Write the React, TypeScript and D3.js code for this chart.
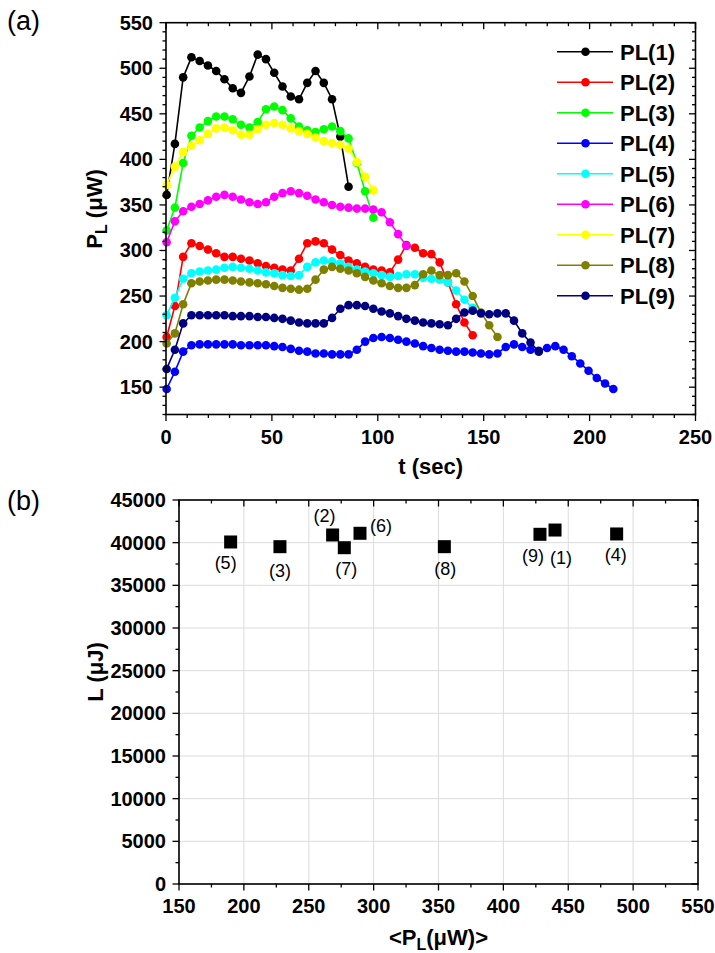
import React from "react";
import * as d3 from "d3";

// ---- Data ----
const T = [0.3, 4.2, 8.1, 12.0, 15.9, 19.8, 23.7, 27.6, 31.5, 35.4, 39.4, 43.3, 47.2, 51.1, 55.0, 58.9, 62.8, 66.7, 70.6, 74.5, 78.4, 82.3, 86.2, 90.1, 94.0, 97.9, 101.8, 105.7, 109.6, 113.5, 117.5, 121.4, 125.3, 129.2, 133.1, 137.0, 140.9, 144.8, 148.7, 152.6, 156.5, 160.4, 164.3, 168.2, 172.1, 176.0, 179.9, 183.8, 187.7, 191.6, 195.6, 199.5, 203.4, 207.3, 211.2];

const PL1 = [361, 417, 490, 512, 508, 503, 497, 488, 478, 473, 491, 515, 510, 495, 480, 469, 466, 484, 497, 484, 466, 425, 370];
const PL2 = [205, 239, 293, 308, 305, 301, 297, 293, 293, 291, 289, 286, 283, 281, 279, 278, 291, 308, 310, 308, 301, 295, 289, 286, 282, 279, 278, 276, 290, 306, 303, 297, 296, 287, 265, 241, 221, 207];
const PL3 = [322, 347, 396, 426, 435, 442, 447, 447, 444, 438, 435, 441, 455, 458, 454, 445, 436, 432, 430, 433, 436, 431, 423, 396, 365, 336];
const PL4 = [148, 167, 189, 196, 197, 197, 197, 197, 197, 196, 196, 196, 196, 195, 194, 192, 190, 189, 187, 187, 186, 186, 186, 191, 200, 204, 205, 204, 202, 200, 198, 195, 193, 191, 190, 189, 189, 188, 187, 186, 187, 194, 197, 194, 191, 190, 193, 195, 191, 184, 176, 168, 160, 154, 148];
const PL5 = [229, 248, 269, 275, 277, 278, 279, 281, 282, 281, 280, 278, 276, 275, 273, 272, 273, 282, 287, 289, 288, 286, 282, 279, 277, 275, 273, 271, 272, 274, 274, 270, 269, 268, 265, 256, 246, 237];
const PL6 = [309, 332, 343, 348, 351, 355, 359, 361, 359, 356, 353, 351, 353, 359, 363, 365, 363, 360, 356, 353, 350, 348, 347, 346, 346, 345, 342, 331, 318, 305];
const PL7 = [372, 392, 408, 415, 421, 428, 434, 435, 432, 427, 427, 433, 438, 440, 438, 434, 431, 428, 424, 420, 418, 416, 412, 397, 381, 366];
const PL8 = [198, 209, 241, 264, 266, 267, 268, 268, 267, 266, 265, 264, 263, 261, 259, 258, 257, 258, 268, 279, 282, 280, 278, 275, 271, 267, 264, 261, 259, 259, 262, 274, 278, 273, 273, 275, 266, 250, 232, 218, 205];
const PL9 = [170, 191, 220, 229, 229, 229, 229, 229, 228, 228, 228, 227, 227, 226, 225, 223, 221, 220, 220, 220, 226, 236, 240, 240, 239, 236, 233, 231, 228, 225, 223, 221, 220, 219, 218, 225, 232, 234, 231, 230, 231, 231, 223, 209, 199, 189];

const SERIES_NAMES = ["PL(1)", "PL(2)", "PL(3)", "PL(4)", "PL(5)", "PL(6)", "PL(7)", "PL(8)", "PL(9)"];
const SERIES_VALUES = [PL1, PL2, PL3, PL4, PL5, PL6, PL7, PL8, PL9];
const SERIES_COLORS = ["#000000", "#ff0000", "#00ff00", "#0000ff", "#00ffff", "#ff00ff", "#ffff00", "#808000", "#000080"];

const TOP_Y_TICKS = [150, 200, 250, 300, 350, 400, 450, 500, 550];
const TOP_X_TICKS = [0, 50, 100, 150, 200, 250];

const B_LABELS = ["(1)", "(2)", "(3)", "(4)", "(5)", "(6)", "(7)", "(8)", "(9)"];
const B_P = [439.8, 268.4, 227.8, 487.3, 189.8, 289.5, 277.4, 354.5, 428.2];
const B_L = [41480, 40900, 39530, 41020, 40080, 41100, 39410, 39530, 40980];
const B_X_TICKS = [150, 200, 250, 300, 350, 400, 450, 500, 550];
const B_Y_TICKS = [0, 5000, 10000, 15000, 20000, 25000, 30000, 35000, 40000, 45000];

// label offsets (layout only)
const B_LABEL_DX = [6, -8, 0, -1, -5, 21, 2, 1, -7];
const B_LABEL_DY = [28, -19, 24, 21, 21, -7, 21, 22, 22];

const FONT = "'Liberation Sans', Arial, Helvetica, sans-serif";

export default function App() {
  // ---- top chart ----
  const tL = 166, tR = 695.5, tT = 22.7, tB = 414.5;
  const x1 = d3.scaleLinear().domain([0, 250]).range([tL, tR]);
  const y1 = d3.scaleLinear().domain([120, 550]).range([tB, tT]);
  const xMinor1 = d3.range(0, 251, 10);
  const yMinor1 = d3.range(120, 551, 10);

  // ---- bottom chart ----
  const bL = 179, bR = 698, bT = 500, bB = 884;
  const x2 = d3.scaleLinear().domain([150, 550]).range([bL, bR]);
  const y2 = d3.scaleLinear().domain([0, 45000]).range([bB, bT]);
  const xMinor2 = d3.range(150, 551, 25);
  const yMinor2 = d3.range(0, 45001, 2500);

  const line = d3
    .line<number>()
    .x((_, i) => x1(T[i]))
    .y((v) => y1(v));

  const MAJ = 6.5;
  const MIN = 3.5;
  const axisStroke = 1.6;

  return (
    <svg
      width={715}
      height={953}
      style={{ position: "absolute", left: 0, top: 0, background: "#fff" }}
      fontFamily={FONT}
    >
      <rect x={0} y={0} width={715} height={953} fill="#fff" />
      {/* ============ TOP CHART ============ */}
      <text x={7} y={30} fontSize={27}>(a)</text>

      {/* series */}
      {SERIES_VALUES.map((vals, s) => (
        <g key={"s" + s}>
          <path d={line(vals) || ""} fill="none" stroke={SERIES_COLORS[s]} strokeWidth={1.6} />
          {vals.map((v, i) => (
            <circle key={i} cx={x1(T[i])} cy={y1(v)} r={4.3} fill={SERIES_COLORS[s]} />
          ))}
        </g>
      ))}

      {/* frame */}
      <rect x={tL} y={tT} width={tR - tL} height={tB - tT} fill="none" stroke="#000" strokeWidth={axisStroke} />

      {/* x ticks: bottom outward, top inward */}
      {xMinor1.map((v) => {
        const major = v % 50 === 0;
        const len = major ? MAJ : MIN;
        return (
          <g key={"xt" + v}>
            <line x1={x1(v)} x2={x1(v)} y1={tB} y2={tB + len} stroke="#000" strokeWidth={1.3} />
            <line x1={x1(v)} x2={x1(v)} y1={tT} y2={tT + len} stroke="#000" strokeWidth={1.3} />
          </g>
        );
      })}
      {/* y ticks: left outward, right inward */}
      {yMinor1.map((v) => {
        const major = v % 50 === 0;
        const len = major ? MAJ : MIN;
        return (
          <g key={"yt" + v}>
            <line x1={tL - len} x2={tL} y1={y1(v)} y2={y1(v)} stroke="#000" strokeWidth={1.3} />
            <line x1={tR - len} x2={tR} y1={y1(v)} y2={y1(v)} stroke="#000" strokeWidth={1.3} />
          </g>
        );
      })}
      {TOP_X_TICKS.map((v) => (
        <text key={"xl" + v} x={x1(v)} y={444} fontSize={20} fontWeight="bold" textAnchor="middle">
          {v}
        </text>
      ))}
      {TOP_Y_TICKS.map((v) => (
        <text key={"yl" + v} x={153} y={y1(v) + 7} fontSize={20} fontWeight="bold" textAnchor="end">
          {v}
        </text>
      ))}
      <text x={(tL + tR) / 2} y={474} fontSize={22} fontWeight="bold" textAnchor="middle">
        t (sec)
      </text>
      <text
        transform={`translate(102, 209) rotate(-90)`}
        fontSize={22}
        fontWeight="bold"
        textAnchor="middle"
      >
        P<tspan fontSize={16} dy={5}>L</tspan>
        <tspan dy={-5}> (μW)</tspan>
      </text>

      {/* legend */}
      {SERIES_NAMES.map((name, s) => {
        const yy = 51.7 + s * 30.5;
        return (
          <g key={"lg" + s}>
            <line x1={557} x2={613} y1={yy} y2={yy} stroke={SERIES_COLORS[s]} strokeWidth={1.6} />
            <circle cx={585.5} cy={yy} r={4.3} fill={SERIES_COLORS[s]} />
            <text x={620} y={yy + 8} fontSize={22} fontWeight="bold">
              {name}
            </text>
          </g>
        );
      })}

      {/* ============ BOTTOM CHART ============ */}
      <text x={7} y={510} fontSize={27}>(b)</text>

      {/* grid */}
      {B_X_TICKS.map((v) => (
        <line key={"gx" + v} x1={x2(v)} x2={x2(v)} y1={bT} y2={bB} stroke="#dcdcdc" strokeWidth={1} />
      ))}
      {B_Y_TICKS.map((v) => (
        <line key={"gy" + v} x1={bL} x2={bR} y1={y2(v)} y2={y2(v)} stroke="#dcdcdc" strokeWidth={1} />
      ))}

      <rect x={bL} y={bT} width={bR - bL} height={bB - bT} fill="none" stroke="#000" strokeWidth={axisStroke} />

      {xMinor2.map((v) => {
        const major = (v - 150) % 50 === 0;
        const len = major ? MAJ : MIN;
        return (
          <g key={"bxt" + v}>
            <line x1={x2(v)} x2={x2(v)} y1={bB} y2={bB + len} stroke="#000" strokeWidth={1.3} />
            <line x1={x2(v)} x2={x2(v)} y1={bT} y2={bT + len} stroke="#000" strokeWidth={1.3} />
          </g>
        );
      })}
      {yMinor2.map((v) => {
        const major = v % 5000 === 0;
        const len = major ? MAJ : MIN;
        return (
          <g key={"byt" + v}>
            <line x1={bL - len} x2={bL} y1={y2(v)} y2={y2(v)} stroke="#000" strokeWidth={1.3} />
            <line x1={bR - len} x2={bR} y1={y2(v)} y2={y2(v)} stroke="#000" strokeWidth={1.3} />
          </g>
        );
      })}
      {B_X_TICKS.map((v) => (
        <text key={"bxl" + v} x={x2(v)} y={913} fontSize={20} fontWeight="bold" textAnchor="middle">
          {v}
        </text>
      ))}
      {B_Y_TICKS.map((v) => (
        <text key={"byl" + v} x={166} y={y2(v) + 7} fontSize={20} fontWeight="bold" textAnchor="end">
          {v}
        </text>
      ))}
      <text x={(bL + bR) / 2} y={945} fontSize={22} fontWeight="bold" textAnchor="middle">
        {"<P"}
        <tspan fontSize={16} dy={5}>L</tspan>
        <tspan dy={-5}>{"(μW)>"}</tspan>
      </text>
      <text
        transform={`translate(103, 672) rotate(-90)`}
        fontSize={22}
        fontWeight="bold"
        textAnchor="middle"
      >
        L (μJ)
      </text>

      {/* markers */}
      {B_P.map((p, i) => (
        <rect key={"m" + i} x={x2(p) - 6.5} y={y2(B_L[i]) - 6.5} width={13} height={13} fill="#000" />
      ))}
      {B_LABELS.map((lab, i) => (
        <text
          key={"ml" + i}
          x={x2(B_P[i]) + B_LABEL_DX[i]}
          y={y2(B_L[i]) + B_LABEL_DY[i] + 6}
          fontSize={18}
          textAnchor="middle"
        >
          {lab}
        </text>
      ))}
    </svg>
  );
}
